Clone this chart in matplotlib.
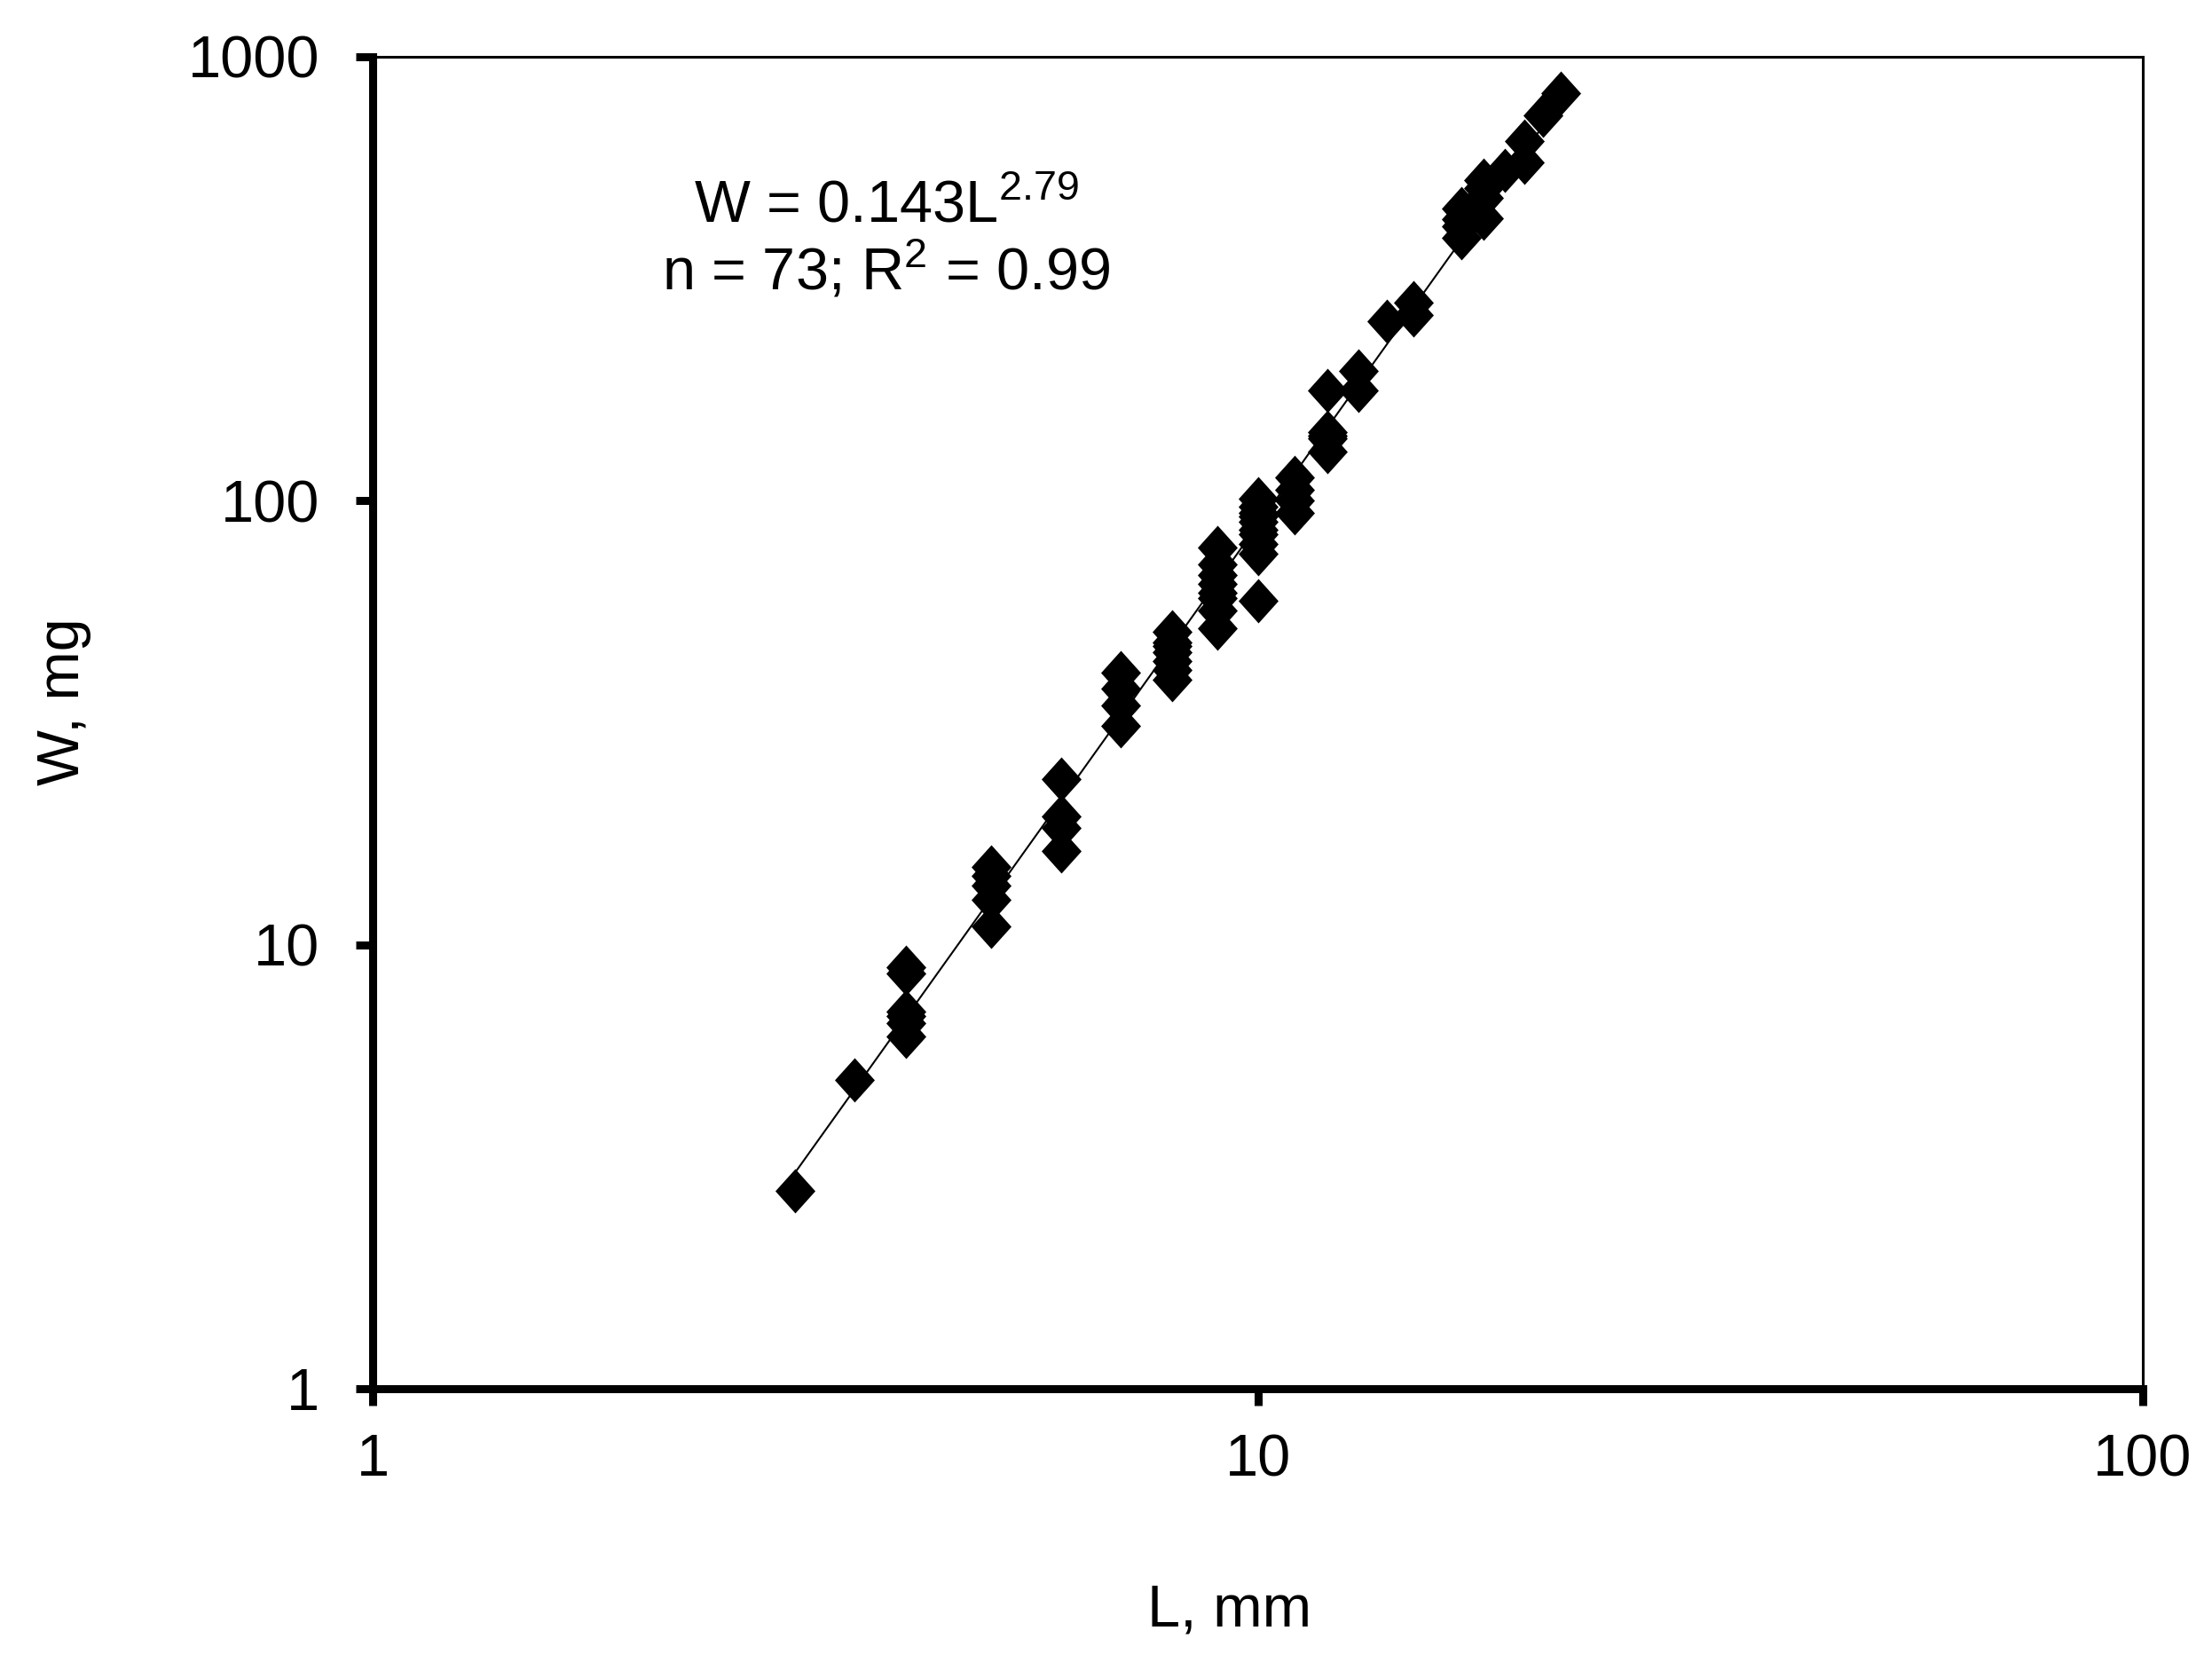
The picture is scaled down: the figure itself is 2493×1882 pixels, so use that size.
import matplotlib
matplotlib.use("Agg")
import matplotlib.pyplot as plt
import numpy as np

plt.rcParams["font.family"] = ["Liberation Sans", "DejaVu Sans"]
plt.rcParams["mathtext.fontset"] = "custom"
plt.rcParams["mathtext.rm"] = "Liberation Sans"
plt.rcParams["mathtext.it"] = "Liberation Sans"

# body length (mm) and dry weight (mg)
length_mm = [3, 3.5,
             4, 4, 4, 4, 4, 4,
             5, 5, 5, 5, 5,
             6, 6, 6, 6,
             7, 7, 7, 7,
             8, 8, 8, 8, 8, 8, 8,
             9, 9, 9, 9, 9, 9, 9, 9,
             10, 10, 10, 10, 10, 10, 10, 10, 10, 10,
             11, 11, 11, 11,
             12, 12, 12, 12, 12,
             13, 13,
             14,
             15, 15,
             17, 17, 17, 17,
             18, 18, 18, 18,
             19,
             20, 20,
             21,
             22]
weight_mg = [2.79, 4.97,
             8.9, 8.6, 7.07, 6.9, 6.66, 6.22,
             15.0, 14.3, 13.6, 12.6, 11.0,
             23.6, 19.5, 18.3, 16.3,
             41.0, 37.7, 34.6, 31.1,
             50.8, 48.0, 47.0, 45.5, 43.5, 41.5, 39.5,
             78.5, 72.0, 68.0, 65.0, 62.0, 60.5, 56.5, 51.6,
             101, 97, 94, 92, 89.7, 86, 84, 80, 76, 59.5,
             113, 106, 100, 94,
             177, 143, 140, 138, 129,
             196, 177,
             254,
             279, 262,
             455, 430, 415, 391,
             527, 505, 480, 432,
             555,
             646, 578,
             738,
             829]

coef_a = 0.143
coef_b = 2.79

fig = plt.figure(figsize=(24.93, 18.82), dpi=100)
ax = fig.add_axes([0.1685, 0.1684, 0.8002, 0.7976])

# fitted power curve across the data range
lx = np.linspace(min(length_mm), max(length_mm), 200)
ax.plot(lx, coef_a * lx ** coef_b, color="black", linewidth=1.5, zorder=2)

diamond = [(0, 1), (0.9, 0), (0, -1), (-0.9, 0), (0, 1)]
ax.plot(length_mm, weight_mg, linestyle="none", marker=diamond,
        markersize=36, color="black", markeredgewidth=0, zorder=3)

ax.set_xscale("log")
ax.set_yscale("log")
ax.set_xlim(1, 100)
ax.set_ylim(1, 1000)
ax.set_xticks([1, 10, 100])
ax.set_xticklabels(["1", "10", "100"])
ax.set_yticks([1, 10, 100, 1000])
ax.set_yticklabels(["1", "10", "100", "1000"])
ax.minorticks_off()

for side in ["left", "bottom"]:
    ax.spines[side].set_linewidth(6.5)
for side in ["top", "right"]:
    ax.spines[side].set_linewidth(2.2)

ax.tick_params(axis="both", which="major", direction="out", length=14,
               width=6.5, labelsize=48)
ax.tick_params(axis="y", pad=29)
ax.tick_params(axis="x", pad=22)

ax.set_xlabel("L, mm", fontsize=48)
ax.set_ylabel("W, mg", fontsize=48)
ax.xaxis.set_label_coords(0.484, -0.146)
ax.yaxis.set_label_coords(-0.159, 0.516)

ax.text(0.29, 0.876, "W = 0.143L$^{2.79}$", transform=ax.transAxes,
        ha="center", va="baseline", fontsize=48)
ax.text(0.29, 0.8248, "n = 73; R$^{2}$ = 0.99", transform=ax.transAxes,
        ha="center", va="baseline", fontsize=48)

fig.savefig("out.png", dpi=100, facecolor="white")
